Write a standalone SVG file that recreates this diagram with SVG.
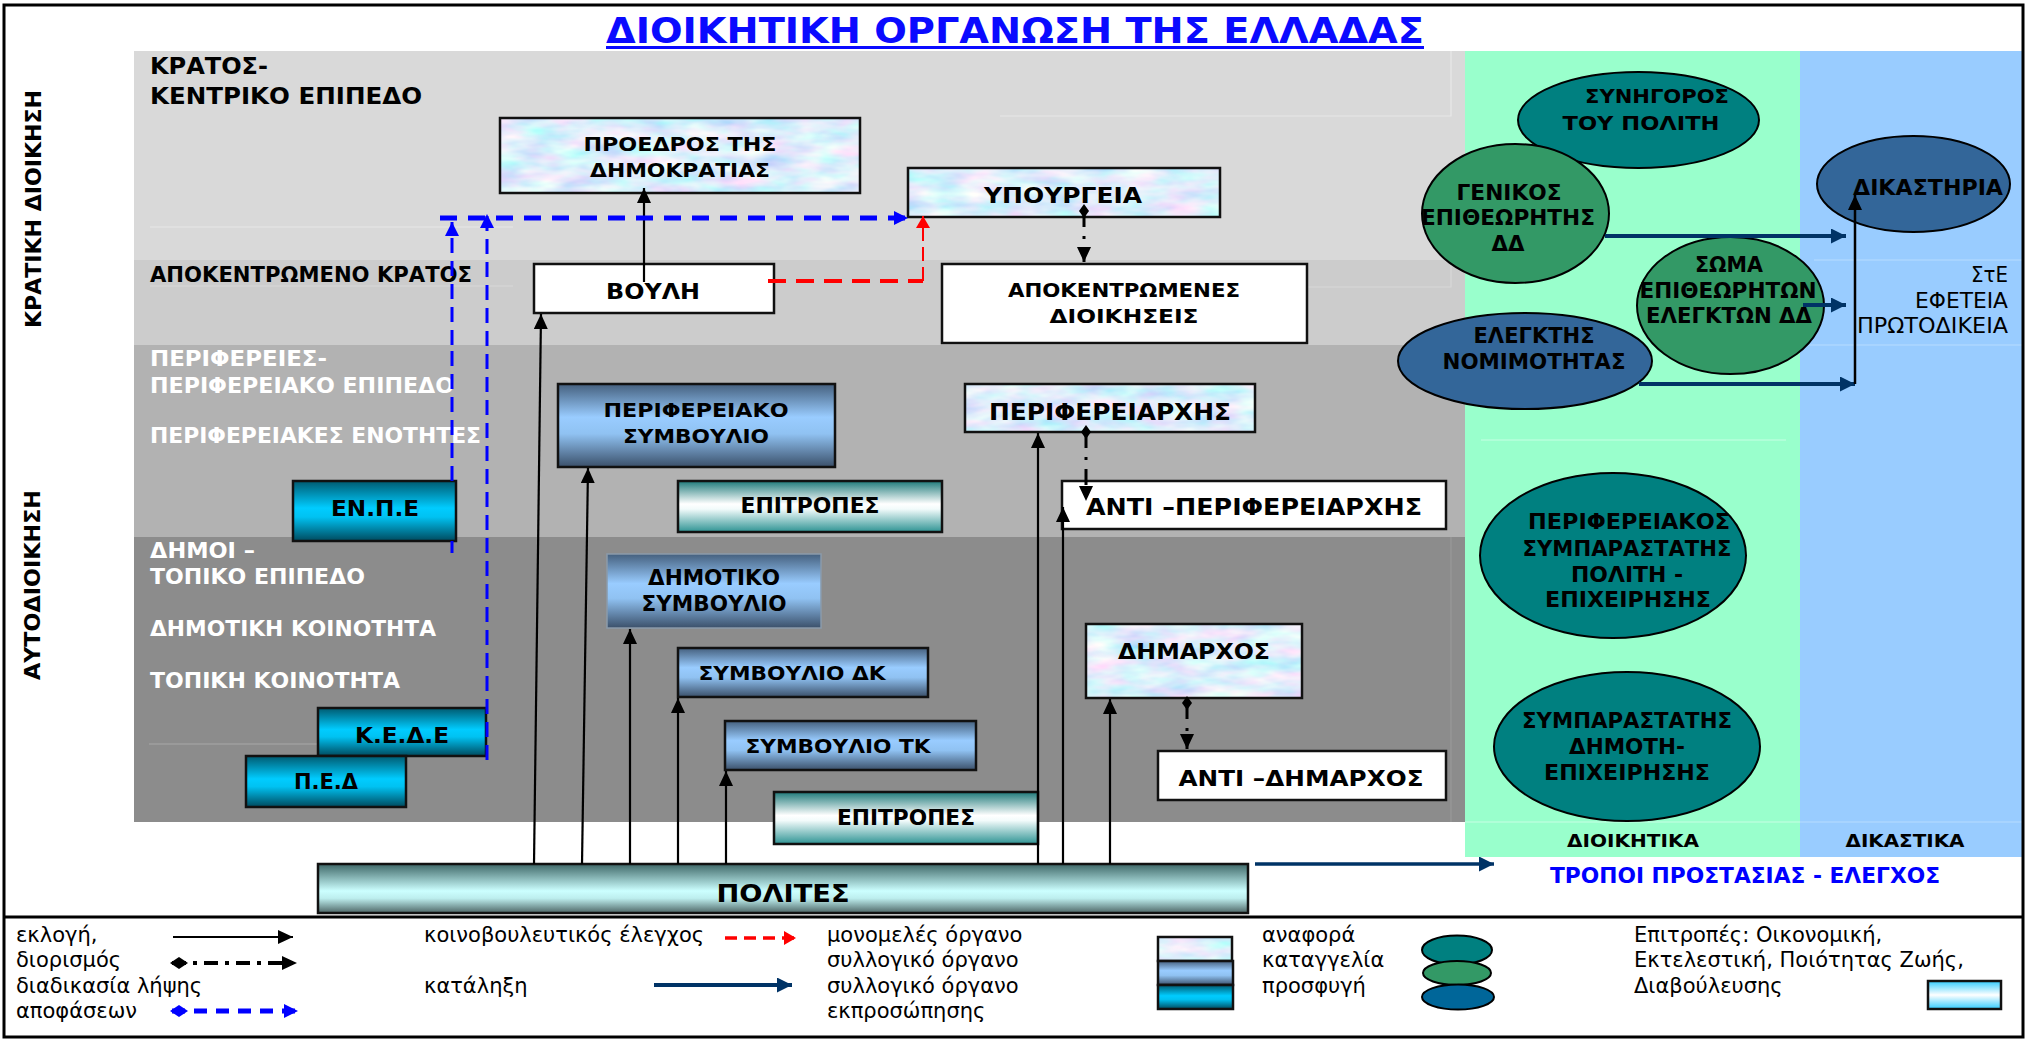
<svg xmlns="http://www.w3.org/2000/svg" width="2033" height="1042" viewBox="0 0 2033 1042">
<style>
.b{font-family:"DejaVu Sans","Liberation Sans",sans-serif;font-weight:bold;fill:#000}
.r{font-family:"DejaVu Sans","Liberation Sans",sans-serif;fill:#000;font-size:21px}
.w{fill:#fff}
.box{stroke:#111;stroke-width:2.5}
.frame{fill:none;stroke:#111;stroke-width:2.5}
.ell{stroke:#000;stroke-width:2}
.blk{fill:none;stroke:#000;stroke-width:2.2}
.nav{fill:none;stroke:#003366;stroke-width:4}
.dd{fill:none;stroke:#000;stroke-width:3;stroke-dasharray:16 9 3 9}
.faint{stroke-width:1.2;fill:none}
</style>
<defs>
<filter id="tex" x="0" y="0" width="100%" height="100%">
<feTurbulence type="fractalNoise" baseFrequency="0.025 0.07" numOctaves="3" seed="11" result="n"/>
<feColorMatrix in="n" type="matrix" values="0.85 0 0 0 0.3  0 0.55 0 0 0.58  0 0 0 0 0.97  0 0 0 0 1"/>
<feComposite in2="SourceGraphic" operator="in"/>
</filter>
<linearGradient id="gBlue" x1="0" y1="0" x2="0" y2="1">
<stop offset="0" stop-color="#45607e"/><stop offset="0.4" stop-color="#99ccff"/><stop offset="0.6" stop-color="#90c2f2"/><stop offset="1" stop-color="#3b506a"/>
</linearGradient>
<linearGradient id="gCyan" x1="0" y1="0" x2="0" y2="1">
<stop offset="0" stop-color="#005a70"/><stop offset="0.45" stop-color="#00ccff"/><stop offset="0.6" stop-color="#00c2f2"/><stop offset="1" stop-color="#004a5e"/>
</linearGradient>
<linearGradient id="gTeal" x1="0" y1="0" x2="0" y2="1">
<stop offset="0" stop-color="#1f7a7a"/><stop offset="0.45" stop-color="#ffffff"/><stop offset="0.55" stop-color="#f2fbfb"/><stop offset="1" stop-color="#2f9494"/>
</linearGradient>
<linearGradient id="gPol" x1="0" y1="0" x2="0" y2="1">
<stop offset="0" stop-color="#3f6868"/><stop offset="0.55" stop-color="#ccffff"/><stop offset="0.7" stop-color="#bdeeee"/><stop offset="1" stop-color="#4d6666"/>
</linearGradient>
<linearGradient id="gCW" x1="0" y1="0" x2="0" y2="1">
<stop offset="0" stop-color="#33ccff"/><stop offset="0.5" stop-color="#ffffff"/><stop offset="1" stop-color="#33ccff"/>
</linearGradient>
<marker id="ab" markerWidth="16" markerHeight="16" refX="15" refY="7" orient="auto" markerUnits="userSpaceOnUse"><path d="M0,0 L15,7 L0,14 z" fill="#000"/></marker>
<marker id="an" markerWidth="16" markerHeight="16" refX="15" refY="7.5" orient="auto" markerUnits="userSpaceOnUse"><path d="M0,0 L15,7.5 L0,15 z" fill="#003366"/></marker>
<marker id="ar" markerWidth="14" markerHeight="16" refX="12" refY="7" orient="auto" markerUnits="userSpaceOnUse"><path d="M0,0 L12,7 L0,14 z" fill="#ff0000"/></marker>
<marker id="abl" markerWidth="16" markerHeight="16" refX="14" refY="7" orient="auto" markerUnits="userSpaceOnUse"><path d="M0,0 L14,7 L0,14 z" fill="#0000ff"/></marker>
<marker id="dm" markerWidth="16" markerHeight="12" refX="7" refY="5" orient="auto" markerUnits="userSpaceOnUse"><path d="M0,5 L7,0 L14,5 L7,10 z" fill="#000"/></marker>
<marker id="dmb" markerWidth="20" markerHeight="14" refX="2" refY="6" orient="auto" markerUnits="userSpaceOnUse"><path d="M0,6 L9,0 L18,6 L9,12 z" fill="#0000ff"/></marker>
<marker id="dmk" markerWidth="20" markerHeight="14" refX="2" refY="6" orient="auto" markerUnits="userSpaceOnUse"><path d="M0,6 L9,0 L18,6 L9,12 z" fill="#000"/></marker>
</defs>

<rect x="0" y="0" width="2033" height="1042" fill="#fff"/>

<!-- bands -->
<g id="bands">
<rect x="134" y="51" width="1331" height="209" fill="#d9d9d9"/>
<rect x="134" y="260" width="1331" height="85" fill="#cccccc"/>
<rect x="134" y="345" width="1331" height="192" fill="#b2b2b2"/>
<rect x="134" y="537" width="1331" height="285" fill="#8c8c8c"/>
<rect x="1465" y="51" width="335" height="806" fill="#99ffcc"/>
<rect x="1800" y="51" width="223" height="806" fill="#99ccff"/>
<path class="faint" stroke="#e8e8e8" d="M150,227 H513 M1000,116 H1451 V51"/>
<path class="faint" stroke="#d8d8d8" d="M150,286 H513 M1000,287 H1451 V260"/>
<path class="faint" stroke="#a8a8a8" d="M149,744 H318"/>
<path class="faint" stroke="#999" d="M1451,537 V822"/>
<path class="faint" stroke="#c8ffe4" d="M1481,440 H1786 M1465,822 H1800"/>
<path class="faint" stroke="#b8dcff" d="M1814,260 H2023 M1800,345 H2023 M1800,822 H2023"/>
</g>

<!-- frame -->
<rect x="4" y="5" width="2019" height="1032" fill="none" stroke="#000" stroke-width="3"/>
<line x1="4" y1="917" x2="2023" y2="917" stroke="#000" stroke-width="3"/>

<!-- title -->
<text class="b" x="1015" y="43" text-anchor="middle" font-size="36" textLength="818" lengthAdjust="spacingAndGlyphs" style="fill:#0a0aff">ΔΙΟΙΚΗΤΙΚΗ ΟΡΓΑΝΩΣΗ ΤΗΣ ΕΛΛΑΔΑΣ</text>
<rect x="606" y="46" width="818" height="3" fill="#0a0aff"/>

<!-- side labels -->
<text class="b" transform="translate(41,209) rotate(-90)" text-anchor="middle" font-size="21" textLength="238" lengthAdjust="spacingAndGlyphs">ΚΡΑΤΙΚΗ ΔΙΟΙΚΗΣΗ</text>
<text class="b" transform="translate(40,585) rotate(-90)" text-anchor="middle" font-size="21" textLength="190" lengthAdjust="spacingAndGlyphs">ΑΥΤΟΔΙΟΙΚΗΣΗ</text>

<!-- band labels -->
<g id="levels">
<text class="b" x="150" y="74" font-size="23.5" textLength="118" lengthAdjust="spacingAndGlyphs">ΚΡΑΤΟΣ-</text>
<text class="b" x="150" y="104" font-size="23.5" textLength="272" lengthAdjust="spacingAndGlyphs">ΚΕΝΤΡΙΚΟ ΕΠΙΠΕΔΟ</text>
<text class="b" x="150" y="282" font-size="21.5" textLength="322" lengthAdjust="spacingAndGlyphs">ΑΠΟΚΕΝΤΡΩΜΕΝΟ ΚΡΑΤΟΣ</text>
<text class="b w" x="150" y="366" font-size="21.5" textLength="177" lengthAdjust="spacingAndGlyphs">ΠΕΡΙΦΕΡΕΙΕΣ-</text>
<text class="b w" x="150" y="393" font-size="21.5" textLength="304" lengthAdjust="spacingAndGlyphs">ΠΕΡΙΦΕΡΕΙΑΚΟ ΕΠΙΠΕΔΟ</text>
<text class="b w" x="150" y="443" font-size="21.5" textLength="331" lengthAdjust="spacingAndGlyphs">ΠΕΡΙΦΕΡΕΙΑΚΕΣ ΕΝΟΤΗΤΕΣ</text>
<text class="b w" x="150" y="558" font-size="21.5" textLength="105" lengthAdjust="spacingAndGlyphs">ΔΗΜΟΙ –</text>
<text class="b w" x="150" y="584" font-size="21.5" textLength="215" lengthAdjust="spacingAndGlyphs">ΤΟΠΙΚΟ ΕΠΙΠΕΔΟ</text>
<text class="b w" x="150" y="636" font-size="21.5" textLength="286" lengthAdjust="spacingAndGlyphs">ΔΗΜΟΤΙΚΗ ΚΟΙΝΟΤΗΤΑ</text>
<text class="b w" x="150" y="688" font-size="21.5" textLength="250" lengthAdjust="spacingAndGlyphs">ΤΟΠΙΚΗ ΚΟΙΝΟΤΗΤΑ</text>
</g>

<!-- nodes -->
<g id="proedros">
<rect x="500" y="118" width="360" height="75" fill="#fff" filter="url(#tex)"/>
<rect x="500" y="118" width="360" height="75" class="frame"/>
<text class="b" x="680" y="151" text-anchor="middle" font-size="20" textLength="193" lengthAdjust="spacingAndGlyphs">ΠΡΟΕΔΡΟΣ  ΤΗΣ</text>
<text class="b" x="680" y="177" text-anchor="middle" font-size="20" textLength="180" lengthAdjust="spacingAndGlyphs">ΔΗΜΟΚΡΑΤΙΑΣ</text>
</g>
<g id="ypourgeia">
<rect x="908" y="168" width="312" height="49" fill="#fff" filter="url(#tex)"/>
<rect x="908" y="168" width="312" height="49" class="frame"/>
<text class="b" x="1063" y="203" text-anchor="middle" font-size="22" textLength="158" lengthAdjust="spacingAndGlyphs">ΥΠΟΥΡΓΕΙΑ</text>
</g>
<g id="vouli">
<rect x="534" y="264" width="240" height="49" fill="#fff" class="box"/>
<text class="b" x="653" y="299" text-anchor="middle" font-size="22" textLength="94" lengthAdjust="spacingAndGlyphs">ΒΟΥΛΗ</text>
</g>
<g id="apokentromenes">
<rect x="942" y="264" width="365" height="79" fill="#fff" class="box"/>
<text class="b" x="1124" y="297" text-anchor="middle" font-size="20" textLength="232" lengthAdjust="spacingAndGlyphs">ΑΠΟΚΕΝΤΡΩΜΕΝΕΣ</text>
<text class="b" x="1124" y="323" text-anchor="middle" font-size="20" textLength="149" lengthAdjust="spacingAndGlyphs">ΔΙΟΙΚΗΣΕΙΣ</text>
</g>
<g id="perifereiako-symvoulio">
<rect x="558" y="384" width="277" height="83" fill="url(#gBlue)" class="box"/>
<text class="b" x="696" y="417" text-anchor="middle" font-size="20" textLength="185" lengthAdjust="spacingAndGlyphs">ΠΕΡΙΦΕΡΕΙΑΚΟ</text>
<text class="b" x="696" y="443" text-anchor="middle" font-size="20" textLength="146" lengthAdjust="spacingAndGlyphs">ΣΥΜΒΟΥΛΙΟ</text>
</g>
<g id="epitropes-perif">
<rect x="678" y="481" width="264" height="51" fill="url(#gTeal)" class="box"/>
<text class="b" x="810" y="513" text-anchor="middle" font-size="21" textLength="139" lengthAdjust="spacingAndGlyphs">ΕΠΙΤΡΟΠΕΣ</text>
</g>
<g id="enpe">
<rect x="293" y="481" width="163" height="60" fill="url(#gCyan)" class="box"/>
<text class="b" x="375" y="516" text-anchor="middle" font-size="21" textLength="88" lengthAdjust="spacingAndGlyphs">ΕΝ.Π.Ε</text>
</g>
<g id="perifereiarxis">
<rect x="965" y="384" width="290" height="48" fill="#fff" filter="url(#tex)"/>
<rect x="965" y="384" width="290" height="48" class="frame"/>
<text class="b" x="1110" y="420" text-anchor="middle" font-size="22.5" textLength="242" lengthAdjust="spacingAndGlyphs">ΠΕΡΙΦΕΡΕΙΑΡΧΗΣ</text>
</g>
<g id="anti-perifereiarxis">
<rect x="1062" y="481" width="384" height="48" fill="#fff" class="box"/>
<text class="b" x="1254" y="515" text-anchor="middle" font-size="22.5" textLength="336" lengthAdjust="spacingAndGlyphs">ΑΝΤΙ –ΠΕΡΙΦΕΡΕΙΑΡΧΗΣ</text>
</g>
<g id="dimotiko-symvoulio">
<rect x="607" y="554" width="214" height="74" fill="url(#gBlue)" stroke="#8a9aaa" stroke-width="1.5"/>
<text class="b" x="714" y="585" text-anchor="middle" font-size="20.5" textLength="132" lengthAdjust="spacingAndGlyphs">ΔΗΜΟΤΙΚΟ</text>
<text class="b" x="714" y="611" text-anchor="middle" font-size="20.5" textLength="145" lengthAdjust="spacingAndGlyphs">ΣΥΜΒΟΥΛΙΟ</text>
</g>
<g id="symvoulio-dk">
<rect x="678" y="648" width="250" height="49" fill="url(#gBlue)" class="box"/>
<text class="b" x="792" y="680" text-anchor="middle" font-size="20" textLength="187" lengthAdjust="spacingAndGlyphs">ΣΥΜΒΟΥΛΙΟ ΔΚ</text>
</g>
<g id="symvoulio-tk">
<rect x="725" y="721" width="251" height="49" fill="url(#gBlue)" class="box"/>
<text class="b" x="838" y="753" text-anchor="middle" font-size="20" textLength="185" lengthAdjust="spacingAndGlyphs">ΣΥΜΒΟΥΛΙΟ ΤΚ</text>
</g>
<g id="epitropes-dim">
<rect x="774" y="792" width="264" height="52" fill="url(#gTeal)" class="box"/>
<text class="b" x="906" y="825" text-anchor="middle" font-size="20.5" textLength="138" lengthAdjust="spacingAndGlyphs">ΕΠΙΤΡΟΠΕΣ</text>
</g>
<g id="dimarxos">
<rect x="1086" y="624" width="216" height="74" fill="#fff" filter="url(#tex)"/>
<rect x="1086" y="624" width="216" height="74" class="frame"/>
<text class="b" x="1194" y="659" text-anchor="middle" font-size="22" textLength="152" lengthAdjust="spacingAndGlyphs">ΔΗΜΑΡΧΟΣ</text>
</g>
<g id="anti-dimarxos">
<rect x="1158" y="751" width="288" height="49" fill="#fff" class="box"/>
<text class="b" x="1301" y="786" text-anchor="middle" font-size="22" textLength="245" lengthAdjust="spacingAndGlyphs">ΑΝΤΙ –ΔΗΜΑΡΧΟΣ</text>
</g>
<g id="kede">
<rect x="318" y="708" width="168" height="48" fill="url(#gCyan)" class="box"/>
<text class="b" x="402" y="743" text-anchor="middle" font-size="22" textLength="94" lengthAdjust="spacingAndGlyphs">Κ.Ε.Δ.Ε</text>
</g>
<g id="ped">
<rect x="246" y="756" width="160" height="51" fill="url(#gCyan)" class="box"/>
<text class="b" x="326" y="789" text-anchor="middle" font-size="20.5" textLength="64" lengthAdjust="spacingAndGlyphs">Π.Ε.Δ</text>
</g>
<g id="polites">
<rect x="318" y="864" width="930" height="49" fill="url(#gPol)" class="box"/>
<text class="b" x="783" y="902" text-anchor="middle" font-size="25" textLength="133" lengthAdjust="spacingAndGlyphs">ΠΟΛΙΤΕΣ</text>
</g>

<!-- ellipses -->
<g id="synigoros">
<ellipse cx="1638.5" cy="120" rx="120.5" ry="48" fill="#008080" class="ell"/>
<text class="b" x="1657" y="103" text-anchor="middle" font-size="20" textLength="144" lengthAdjust="spacingAndGlyphs">ΣΥΝΗΓΟΡΟΣ</text>
<text class="b" x="1641" y="130" text-anchor="middle" font-size="20" textLength="157" lengthAdjust="spacingAndGlyphs">ΤΟΥ  ΠΟΛΙΤΗ</text>
</g>
<g id="genikos">
<ellipse cx="1515.5" cy="213.5" rx="93.5" ry="69.5" fill="#339966" class="ell"/>
<text class="b" x="1509" y="200" text-anchor="middle" font-size="20.5" textLength="105" lengthAdjust="spacingAndGlyphs">ΓΕΝΙΚΟΣ</text>
<text class="b" x="1508" y="225" text-anchor="middle" font-size="20.5" textLength="174" lengthAdjust="spacingAndGlyphs">ΕΠΙΘΕΩΡΗΤΗΣ</text>
<text class="b" x="1508" y="251" text-anchor="middle" font-size="20.5" textLength="33" lengthAdjust="spacingAndGlyphs">ΔΔ</text>
</g>
<g id="dikastiria">
<ellipse cx="1913.5" cy="184" rx="96.5" ry="48" fill="#336699" class="ell"/>
<text class="b" x="1928" y="195" text-anchor="middle" font-size="21" textLength="150" lengthAdjust="spacingAndGlyphs">ΔΙΚΑΣΤΗΡΙΑ</text>
</g>
<g id="soma">
<ellipse cx="1730.5" cy="305.5" rx="93.5" ry="68.5" fill="#339966" class="ell"/>
<text class="b" x="1729" y="272" text-anchor="middle" font-size="20.5" textLength="68" lengthAdjust="spacingAndGlyphs">ΣΩΜΑ</text>
<text class="b" x="1728" y="298" text-anchor="middle" font-size="20.5" textLength="177" lengthAdjust="spacingAndGlyphs">ΕΠΙΘΕΩΡΗΤΩΝ</text>
<text class="b" x="1729" y="323" text-anchor="middle" font-size="20.5" textLength="166" lengthAdjust="spacingAndGlyphs">ΕΛΕΓΚΤΩΝ ΔΔ</text>
</g>
<g id="elegktis">
<ellipse cx="1525" cy="361" rx="127" ry="48" fill="#336699" class="ell"/>
<text class="b" x="1534" y="343" text-anchor="middle" font-size="20.5" textLength="121" lengthAdjust="spacingAndGlyphs">ΕΛΕΓΚΤΗΣ</text>
<text class="b" x="1534" y="369" text-anchor="middle" font-size="20.5" textLength="183" lengthAdjust="spacingAndGlyphs">ΝΟΜΙΜΟΤΗΤΑΣ</text>
</g>
<g id="perif-symparastatis">
<ellipse cx="1613" cy="555.5" rx="133" ry="82.5" fill="#008080" class="ell"/>
<text class="b" x="1629" y="529" text-anchor="middle" font-size="21" textLength="202" lengthAdjust="spacingAndGlyphs">ΠΕΡΙΦΕΡΕΙΑΚΟΣ</text>
<text class="b" x="1627" y="556" text-anchor="middle" font-size="21" textLength="209" lengthAdjust="spacingAndGlyphs">ΣΥΜΠΑΡΑΣΤΑΤΗΣ</text>
<text class="b" x="1627" y="582" text-anchor="middle" font-size="21" textLength="112" lengthAdjust="spacingAndGlyphs">ΠΟΛΙΤΗ -</text>
<text class="b" x="1628" y="607" text-anchor="middle" font-size="21" textLength="166" lengthAdjust="spacingAndGlyphs">ΕΠΙΧΕΙΡΗΣΗΣ</text>
</g>
<g id="symparastatis-dimoti">
<ellipse cx="1627" cy="746.5" rx="133" ry="74.5" fill="#008080" class="ell"/>
<text class="b" x="1627" y="728" text-anchor="middle" font-size="21" textLength="210" lengthAdjust="spacingAndGlyphs">ΣΥΜΠΑΡΑΣΤΑΤΗΣ</text>
<text class="b" x="1627" y="754" text-anchor="middle" font-size="21" textLength="116" lengthAdjust="spacingAndGlyphs">ΔΗΜΟΤΗ-</text>
<text class="b" x="1627" y="780" text-anchor="middle" font-size="21" textLength="166" lengthAdjust="spacingAndGlyphs">ΕΠΙΧΕΙΡΗΣΗΣ</text>
</g>

<!-- right column labels -->
<g id="labels-right">
<text class="r" x="2008" y="282" text-anchor="end" textLength="37" lengthAdjust="spacingAndGlyphs">ΣτΕ</text>
<text class="r" x="2008" y="308" text-anchor="end" textLength="93" lengthAdjust="spacingAndGlyphs">ΕΦΕΤΕΙΑ</text>
<text class="r" x="2008" y="333" text-anchor="end" textLength="151" lengthAdjust="spacingAndGlyphs">ΠΡΩΤΟΔΙΚΕΙΑ</text>
<text class="b" x="1633" y="847" text-anchor="middle" font-size="18" textLength="132" lengthAdjust="spacingAndGlyphs">ΔΙΟΙΚΗΤΙΚΑ</text>
<text class="b" x="1905" y="847" text-anchor="middle" font-size="18" textLength="119" lengthAdjust="spacingAndGlyphs">ΔΙΚΑΣΤΙΚΑ</text>
<text class="b" x="1745" y="883" text-anchor="middle" font-size="21" textLength="390" lengthAdjust="spacingAndGlyphs" style="fill:#0000ff">ΤΡΟΠΟΙ ΠΡΟΣΤΑΣΙΑΣ - ΕΛΕΓΧΟΣ</text>
</g>

<!-- connectors -->
<g id="connectors">
<path class="blk" d="M534,864 L541,314" marker-end="url(#ab)"/>
<path class="blk" d="M582,864 L588,468" marker-end="url(#ab)"/>
<path class="blk" d="M630,864 L630,629" marker-end="url(#ab)"/>
<path class="blk" d="M678,864 L678,698" marker-end="url(#ab)"/>
<path class="blk" d="M726,864 L726,771" marker-end="url(#ab)"/>
<path class="blk" d="M1038,864 L1038,433" marker-end="url(#ab)"/>
<path class="blk" d="M1063,864 L1063,507" marker-end="url(#ab)"/>
<path class="blk" d="M1110,864 L1110,699" marker-end="url(#ab)"/>
<path class="blk" d="M644,282 L644,188" marker-end="url(#ab)"/>
<path d="M768,281 L923,281" fill="none" stroke="#ff0000" stroke-width="4" stroke-dasharray="18 10"/>
<path d="M923,281 L923,216" fill="none" stroke="#ff0000" stroke-width="2" stroke-dasharray="14 6" marker-end="url(#ar)"/>
<path d="M440,218 L908,218" fill="none" stroke="#0000ff" stroke-width="5" stroke-dasharray="17 11" marker-end="url(#abl)"/>
<path d="M452,553 L452,541 M452,481 L452,345" fill="none" stroke="#0000ff" stroke-width="3" stroke-dasharray="15 8"/>
<path d="M452,345 L452,222" fill="none" stroke="#0000ff" stroke-width="3" stroke-dasharray="15 8" marker-end="url(#abl)"/>
<path d="M487,760 L487,214" fill="none" stroke="#0000ff" stroke-width="3" stroke-dasharray="15 8" marker-end="url(#abl)"/>
<path class="dd" d="M1084,211 L1084,262" marker-start="url(#dm)" marker-end="url(#ab)"/>
<path class="dd" d="M1086,432 L1086,501" marker-start="url(#dm)" marker-end="url(#ab)"/>
<path class="dd" d="M1187,703 L1187,749" marker-start="url(#dm)" marker-end="url(#ab)"/>
<path class="nav" d="M1605,236 L1846,236" marker-end="url(#an)"/>
<path class="nav" d="M1803,305 L1846,305" marker-end="url(#an)"/>
<path class="nav" d="M1639,384 L1855,384" marker-end="url(#an)"/>
<path d="M1855,384 L1855,195" fill="none" stroke="#000" stroke-width="2.5" marker-end="url(#ab)"/>
<path d="M1255,864 L1494,864" fill="none" stroke="#003366" stroke-width="3.5" marker-end="url(#an)"/>
</g>

<!-- legend -->
<g id="legend">
<text class="r" x="16" y="942">εκλογή,</text>
<text class="r" x="16" y="967">διορισμός</text>
<text class="r" x="16" y="993">διαδικασία λήψης</text>
<text class="r" x="16" y="1018">αποφάσεων</text>
<path class="blk" d="M173,937 L293,937" marker-end="url(#ab)"/>
<path d="M172,963 L297,963" fill="none" stroke="#000" stroke-width="4" stroke-dasharray="14 7 4 7" marker-start="url(#dmk)" marker-end="url(#ab)"/>
<path d="M172,1011 L298,1011" fill="none" stroke="#0000ff" stroke-width="5" stroke-dasharray="13 9" marker-start="url(#dmb)" marker-end="url(#abl)"/>
<text class="r" x="424" y="942">κοινοβουλευτικός έλεγχος</text>
<path d="M725,938 L796,938" fill="none" stroke="#ff0000" stroke-width="3.5" stroke-dasharray="12 7" marker-end="url(#ar)"/>
<text class="r" x="424" y="993">κατάληξη</text>
<path class="nav" d="M654,985 L792,985" marker-end="url(#an)"/>
<text class="r" x="827" y="942">μονομελές  όργανο</text>
<text class="r" x="827" y="967">συλλογικό όργανο</text>
<text class="r" x="827" y="993">συλλογικό όργανο</text>
<text class="r" x="827" y="1018">εκπροσώπησης</text>
<rect x="1158" y="937" width="74" height="24" fill="#fff" filter="url(#tex)"/>
<rect x="1158" y="937" width="74" height="24" class="frame"/>
<rect x="1158" y="961" width="75" height="24" fill="url(#gBlue)" class="box"/>
<rect x="1158" y="985" width="75" height="24" fill="url(#gCyan)" class="box"/>
<text class="r" x="1262" y="942">αναφορά</text>
<text class="r" x="1262" y="967">καταγγελία</text>
<text class="r" x="1262" y="993">προσφυγή</text>
<ellipse cx="1457" cy="950" rx="35" ry="14.5" fill="#008080" class="ell"/>
<ellipse cx="1457" cy="973" rx="34" ry="12" fill="#339966" class="ell"/>
<ellipse cx="1458" cy="997" rx="36" ry="12.5" fill="#006699" class="ell"/>
<text class="r" x="1634" y="942">Επιτροπές: Οικονομική,</text>
<text class="r" x="1634" y="967">Εκτελεστική, Ποιότητας Ζωής,</text>
<text class="r" x="1634" y="993">Διαβούλευσης</text>
<rect x="1928" y="981" width="73" height="28" fill="url(#gCW)" class="box"/>
</g>
</svg>
